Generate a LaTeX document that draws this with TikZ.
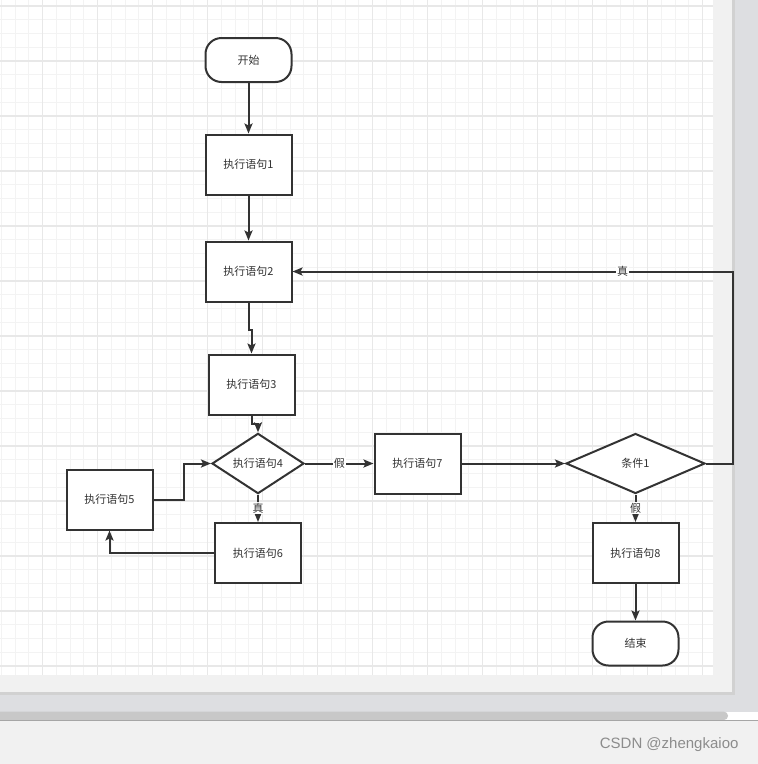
\documentclass[tikz,border=0pt]{standalone}
\usepackage{fontspec}
\setmainfont{Noto Sans CJK SC}
\newfontfamily\wmfont{Liberation Sans}
\usetikzlibrary{shapes.geometric,arrows.meta,calc}
\definecolor{ink}{HTML}{333333}
\definecolor{gridmin}{HTML}{F3F3F3}
\definecolor{gridmaj}{HTML}{E8E8E8}
\definecolor{margin}{HTML}{F1F1F1}
\definecolor{desk}{HTML}{DDDEE1}
\definecolor{bar}{HTML}{C8C8C8}

\begin{document}
\begin{tikzpicture}[x=1pt,y=-1pt,>=Stealth,
  txt/.style={font=\fontsize{11}{13}\selectfont,text=ink},
  box/.style={rectangle,draw=ink,line width=2pt,fill=white,minimum width=86pt,minimum height=60pt,inner sep=0pt,txt},
  term/.style={box,rounded corners=16pt,minimum height=44pt},
  dec/.style={diamond,draw=ink,line width=2pt,fill=white,inner sep=0pt,txt},
  a/.style={-{Stealth[length=10pt,width=8pt,inset=2pt]},draw=ink,line width=2pt},
  lbl/.style={fill=white,inner sep=1pt,txt}]
  \useasboundingbox (0,0) rectangle (758,764);
  % canvas, page and scrollbar
  \fill[desk] (0,0) rectangle (758,711.7);
  \fill[black!30] (0,0) rectangle (733.5,693.5);
  \fill[black!18] (0,0) rectangle (735,695);
  \fill[margin] (0,0) rectangle (731.7,691.7);
  \fill[white] (0,0) rectangle (713,675);
  \foreach \i in {0,...,51} \draw[gridmin,line width=1pt] (1.45+13.75*\i,0) -- (1.45+13.75*\i,675);
  \foreach \j in {0,...,48} \draw[gridmin,line width=1pt] (0,6+13.75*\j) -- (713,6+13.75*\j);
  \foreach \i in {0,...,12} \draw[gridmaj,line width=1.4pt] (42.7+55*\i,0) -- (42.7+55*\i,675);
  \foreach \j in {0,...,12} \draw[gridmaj,line width=1.4pt] (0,6+55*\j) -- (713,6+55*\j);
  \fill[white] (0,711.7) rectangle (758,720);
  \fill[bar,rounded corners=4pt] (-6,711.7) rectangle (728,720);
  \fill[margin] (0,720) rectangle (758,764);
  \draw[black!35,line width=1pt] (0,720.5) -- (758,720.5);
  \node[anchor=east,font=\wmfont\fontsize{15}{17}\selectfont,text=black!45] (mark) at (742,745) {CSDN @zhengkaioo};

  % flowchart
  \node[term] (start) at (248.5,60) {开始};
  \node[box] (s1) at (248.5,164.5) {执行语句1};
  \node[box] (s2) at (248.5,271.5) {执行语句2};
  \node[box] (s3) at (251.5,384.5) {执行语句3};
  \node[dec,minimum width=92pt,minimum height=59pt] (s4) at (258,463.5) {执行语句4};
  \node[box] (s5) at (109.5,499.5) {执行语句5};
  \node[box] (s6) at (258,553) {执行语句6};
  \node[box] (s7) at (417.5,463.5) {执行语句7};
  \node[dec,minimum width=139pt,minimum height=60pt] (c1) at (635.5,463.5) {条件1};
  \node[box] (s8) at (635.5,553) {执行语句8};
  \node[term] (stop) at (635.5,643.5) {结束};

  \draw[a] (start) -- (s1);
  \draw[a] (s1) -- (s2);
  \draw[a] (s2.south) -- ++(0,27) -| (s3.north);
  \draw[a] (s3.south) -- ++(0,8) -| (s4.north);
  \draw[a] (s4.east) -- node[lbl]{假} (s7.west);
  \draw[a] (s4.south) -- node[lbl]{真} (s6.north);
  \draw[a] (s6.west) -| (s5.south);
  \draw[a] (s5.east) -- ++(30,0) |- (s4.west);
  \draw[a] (s7.east) -- (c1.west);
  \draw[a] (c1.east) -- ++(26.5,0) |- node[lbl,pos=0.625]{真} (s2.east);
  \draw[a] (c1.south) -- node[lbl]{假} (s8.north);
  \draw[a] (s8) -- (stop);
\end{tikzpicture}
\end{document}
